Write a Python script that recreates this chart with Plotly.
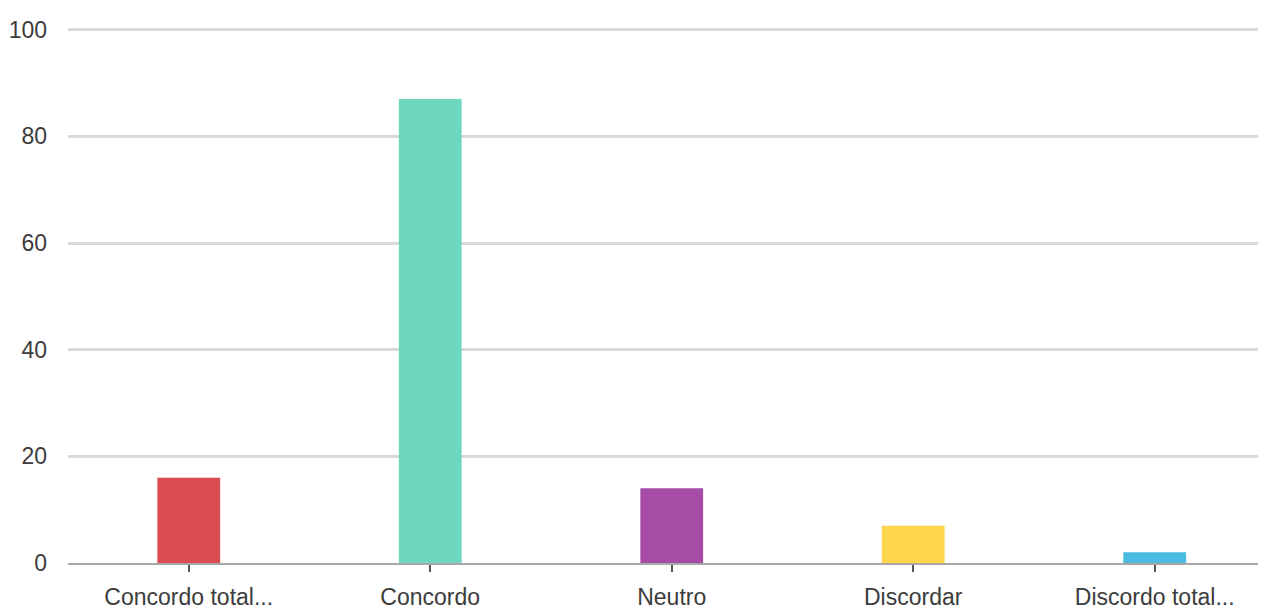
import plotly.graph_objects as go

categories = ["Concordo total...", "Concordo", "Neutro", "Discordar", "Discordo total..."]
values = [16, 87, 14, 7, 2]
colors = ["#d94d51", "#6dd7c0", "#a64ca6", "#ffd54b", "#4bbbe1"]
y_ticks = [0, 20, 40, 60, 80, 100]

fig = go.Figure(go.Bar(
    x=list(range(len(categories))), y=values,
    marker=dict(color=colors, line=dict(width=0)),
    width=0.26,
))

fig.update_layout(
    width=1266, height=609,
    margin=dict(l=60, r=0, t=19, b=54, autoexpand=False),
    plot_bgcolor="white", paper_bgcolor="white",
    showlegend=False,
    font=dict(family="Arial, Liberation Sans", size=23, color="#3c3c3c"),
    xaxis=dict(
        range=[-0.5, 4.494],
        tickmode="array", tickvals=list(range(len(categories))), ticktext=categories,
        showgrid=False, zeroline=False, automargin=False,
        showline=True, linecolor="#a8a8a8", linewidth=2,
        ticks="outside", ticklen=7, tickwidth=2, tickcolor="#555555",
        ticklabelstandoff=5,
    ),
    yaxis=dict(
        range=[0, 100.5], tickvals=y_ticks, automargin=False,
        showgrid=True, gridcolor="#d9d9d9", gridwidth=3,
        zeroline=False, showline=False,
        ticks="", ticklabelstandoff=20,
    ),
)

fig.write_html("out.html")
